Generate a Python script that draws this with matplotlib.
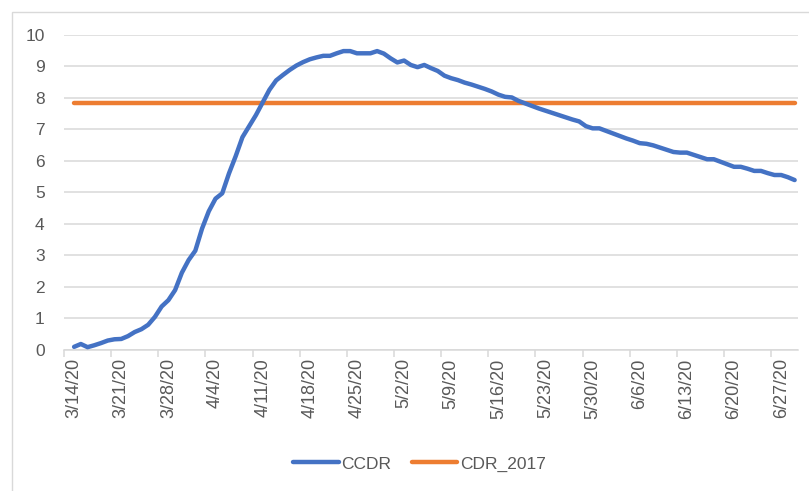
import datetime as dt
import matplotlib
matplotlib.use("Agg")
import matplotlib.pyplot as plt
from matplotlib.patches import Rectangle

plt.rcParams['font.family'] = ['Liberation Sans', 'DejaVu Sans']

# daily values from 3/14/20 to 6/29/20
ccdr = [0.10, 0.19, 0.09, 0.15, 0.22, 0.30, 0.34, 0.35, 0.44, 0.57,
        0.66, 0.80, 1.05, 1.38, 1.58, 1.90, 2.45, 2.85, 3.15, 3.85,
        4.40, 4.80, 4.97, 5.60, 6.15, 6.75, 7.10, 7.45, 7.85, 8.25,
        8.55, 8.72, 8.88, 9.02, 9.13, 9.22, 9.28, 9.33, 9.33, 9.41,
        9.48, 9.48, 9.41, 9.41, 9.41, 9.48, 9.40, 9.25, 9.12, 9.18,
        9.04, 8.97, 9.04, 8.94, 8.85, 8.70, 8.62, 8.56, 8.48, 8.42,
        8.35, 8.28, 8.20, 8.10, 8.03, 8.01, 7.90, 7.82, 7.74, 7.66,
        7.59, 7.52, 7.45, 7.38, 7.31, 7.25, 7.10, 7.03, 7.03, 6.95,
        6.87, 6.79, 6.71, 6.64, 6.56, 6.54, 6.49, 6.42, 6.35, 6.28,
        6.26, 6.26, 6.19, 6.12, 6.05, 6.05, 5.97, 5.89, 5.81, 5.81,
        5.75, 5.68, 5.68, 5.61, 5.55, 5.55, 5.48, 5.39]
cdr_2017 = 7.82
start = dt.date(2020, 3, 14)

days = list(range(len(ccdr)))
tick_days = list(range(0, len(ccdr), 7))
tick_labels = []
for d in tick_days:
    t = start + dt.timedelta(days=d)
    tick_labels.append("%d/%d/%d" % (t.month, t.day, t.year % 100))

grid_col = '#d9d9d9'
text_col = '#595959'

fig = plt.figure(figsize=(8.09, 4.91), dpi=100)
fig.patches.append(Rectangle((12/809, -0.1), 1.0, 1.1 - 12/491,
                             transform=fig.transFigure, fill=False,
                             edgecolor=grid_col, lw=1.0))
ax = fig.add_axes([64/809, 141/491, 734/809, 315.3/491])

ax.plot(days, ccdr, color='#4472C4', lw=3.2, solid_capstyle='round',
        solid_joinstyle='round', label='CCDR', zorder=3)
ax.plot(days, [cdr_2017]*len(days), color='#ED7D31', lw=3.2,
        solid_capstyle='round', label='CDR_2017', zorder=2)

ax.set_xlim(-1.5, 107.5)
ax.set_ylim(0, 10)
ax.set_yticks(range(11))
ax.yaxis.grid(True, color=grid_col, lw=1.1)
ax.set_axisbelow(True)
for s in ['top', 'right', 'left']:
    ax.spines[s].set_visible(False)
ax.spines['bottom'].set_color(grid_col)
ax.spines['bottom'].set_linewidth(1.1)

ax.set_xticks(tick_days)
ax.set_xticklabels(tick_labels, rotation=90, va='top', ha='center')
ax.set_xticks([d - 1.5 for d in tick_days], minor=True)
ax.tick_params(axis='x', which='major', length=0, pad=6, labelsize=13,
               labelcolor=text_col)
ax.tick_params(axis='x', which='minor', length=5, width=1.1,
               color=grid_col)
ax.tick_params(axis='y', length=0, pad=14, labelsize=12.5,
               labelcolor=text_col)

leg = fig.legend(loc='center', bbox_to_anchor=(419.5/809, 1 - 464/491),
                 ncol=2, frameon=False, fontsize=12.5, handlelength=2.6,
                 handletextpad=0.15, columnspacing=1.2)
for t in leg.get_texts():
    t.set_color(text_col)

plt.savefig('out.png', dpi=100)
